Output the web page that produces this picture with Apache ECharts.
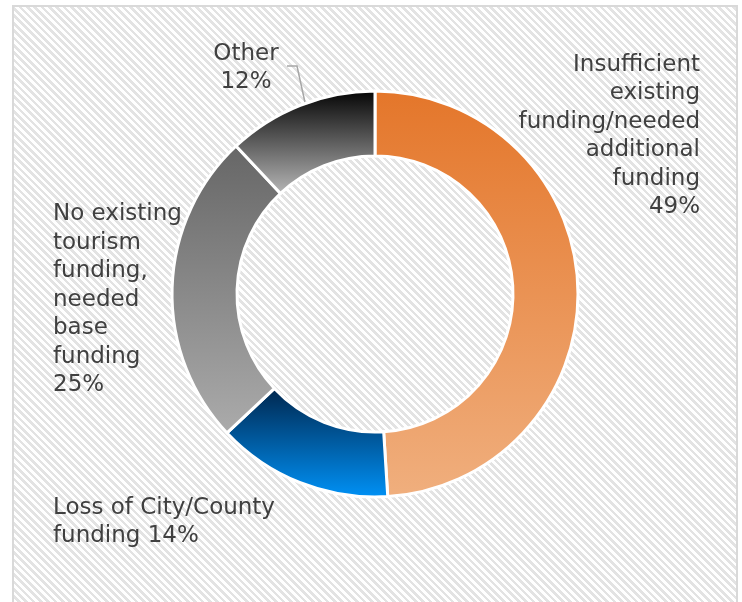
<!DOCTYPE html>
<html>
<head>
<meta charset="utf-8">
<script src="https://cdn.jsdelivr.net/npm/echarts@6/dist/echarts.min.js"></script>
<style>
  html, body { margin: 0; padding: 0; background: #fff; }
  /* hatched frame like the Excel chart area */
  .frame {
    position: absolute; left: 12px; top: 5px; width: 722px; height: 610px;
    border: 2px solid #d9d9d9;
    background: repeating-linear-gradient(45deg, #fff 0px, #fff 2.6px, #e3e3e3 2.6px, #e3e3e3 5.2px);
  }
  #chart { position: absolute; left: 0; top: 0; width: 742px; height: 602px; }
</style>
</head>
<body>
<div class="frame"></div>
<div id="chart"></div>
<script>
// categories + shares (%)
const categories = [
  'Insufficient existing funding/needed additional funding',
  'Loss of City/County funding',
  'No existing tourism funding, needed base funding',
  'Other'
];
const values = [49, 14, 25, 12];
// how each label wraps in the original
const labelText = [
  'Insufficient\nexisting\nfunding/needed\nadditional\nfunding\n49%',
  'Loss of City/County\nfunding 14%',
  'No existing\ntourism\nfunding,\nneeded\nbase\nfunding\n25%',
  'Other\n12%'
];
// gradient top/bottom per slice
const gradTop = ['#e4762a', '#00264d', '#666666', '#030303'];
const gradBottom = ['#f0af7e', '#0092f7', '#ababab', '#b8b8b8'];

// layout
const cx = 375, cy = 294, rIn = 138, rOut = 203;
const labelPos = [
  { x: 700, y: 136, align: 'right' },
  { x: 53, y: 522, align: 'left' },
  { x: 53, y: 300, align: 'left' },
  { x: 246, y: 68, align: 'center' }
];

const chart = echarts.init(document.getElementById('chart'), null, { renderer: 'canvas' });

const total = values.reduce((a, b) => a + b, 0);
function midAngle(i) {
  // clockwise from 12 o'clock, returns canvas angle
  let acc = 0;
  for (let k = 0; k < i; k++) acc += values[k];
  const frac = (acc + values[i] / 2) / total;
  return -Math.PI / 2 + frac * Math.PI * 2;
}

chart.setOption({
  animation: false,
  backgroundColor: 'transparent',
  series: [{
    type: 'pie',
    center: [cx, cy],
    radius: [rIn, rOut],
    startAngle: 90,
    clockwise: true,
    avoidLabelOverlap: false,
    itemStyle: { borderColor: '#fff', borderWidth: 3 },
    label: {
      show: true,
      color: '#404040',
      fontFamily: 'DejaVu Sans',
      fontSize: 23,
      lineHeight: 28.5,
      formatter: p => labelText[p.dataIndex]
    },
    labelLine: { show: false, lineStyle: { color: '#a6a6a6', width: 1.5 } },
    labelLayout: p => {
      const i = p.dataIndex;
      const lp = labelPos[i];
      const out = { x: lp.x, y: lp.y, align: lp.align, verticalAlign: 'middle' };
      if (i === 3) {
        const a = midAngle(i), r = (rIn + rOut) / 2;
        out.labelLinePoints = [
          [cx + r * Math.cos(a), cy + r * Math.sin(a)],
          [297, 66],
          [287, 66]
        ];
      }
      return out;
    },
    data: categories.map((name, i) => ({
      name,
      value: values[i],
      labelLine: { show: i === 3 },
      itemStyle: {
        color: new echarts.graphic.LinearGradient(0, 0, 0, 1, [
          { offset: 0, color: gradTop[i] },
          { offset: 1, color: gradBottom[i] }
        ])
      }
    }))
  }]
});
</script>
</body>
</html>
